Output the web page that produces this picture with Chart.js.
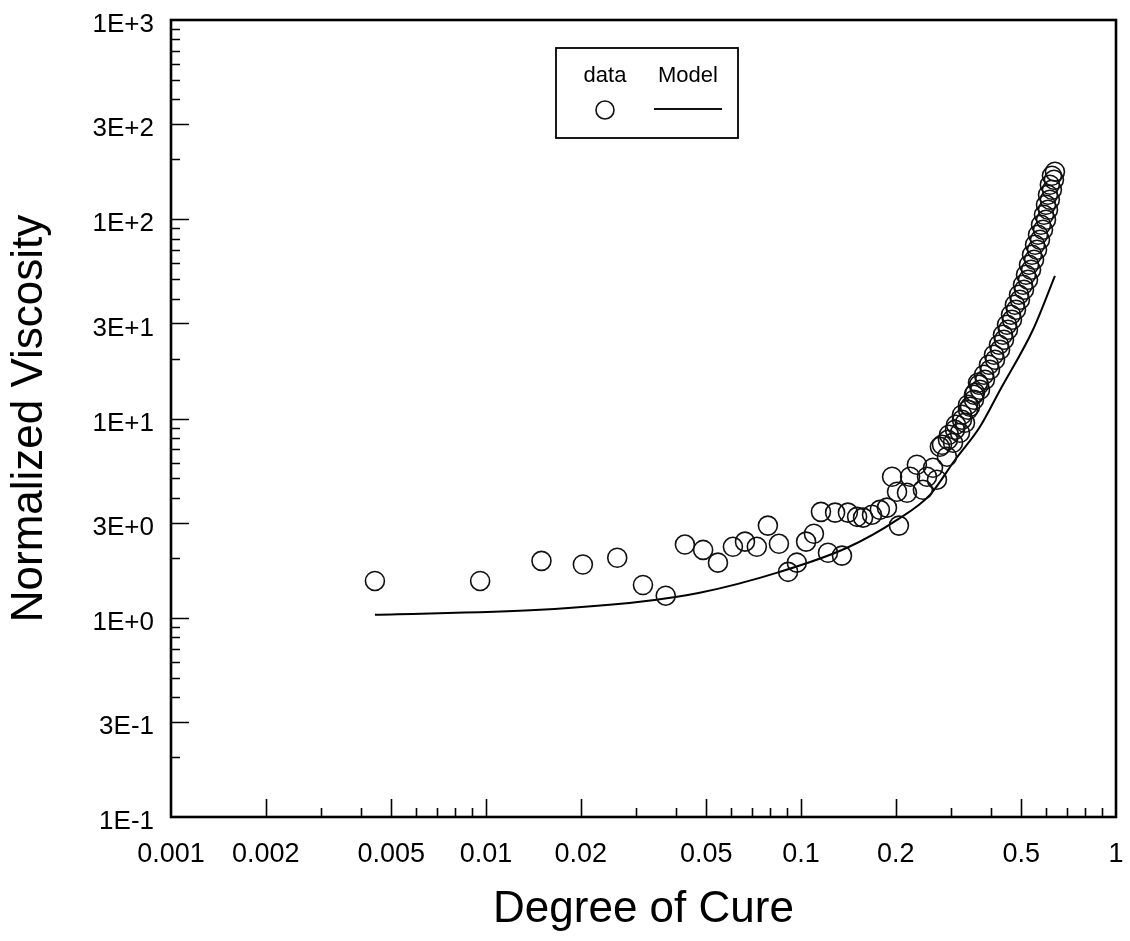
<!DOCTYPE html>
<html>
<head>
<meta charset="utf-8">
<title>Normalized Viscosity vs Degree of Cure</title>
<script src="https://cdn.jsdelivr.net/npm/chart.js@4.4.1/dist/chart.umd.min.js"></script>
<style>
  html, body { margin: 0; padding: 0; background: #fff; }
</style>
</head>
<body>
<canvas id="myChart" width="1130" height="941"></canvas>
<script>
// measured points (degree of cure, normalized viscosity)
const cure = [
  0.00444, 0.00958, 0.0150, 0.0203, 0.0261, 0.0315, 0.0372, 0.0428, 0.0489, 0.0545,
  0.0608, 0.0664, 0.0724, 0.0785, 0.0851, 0.0910, 0.0970, 0.1038, 0.1099, 0.1218,
  0.1349, 0.1157, 0.1283, 0.1409, 0.1507, 0.1574, 0.168, 0.178, 0.1875, 0.2046,
  0.1946, 0.2018, 0.217, 0.222, 0.2333, 0.2437, 0.2512, 0.2625, 0.2702, 0.276,
  0.2906, 0.3038, 0.3197, 0.3316, 0.344, 0.3568, 0.3646,
  0.2928, 0.3083, 0.3244, 0.3390, 0.3541, 0.3701, 0.3837, 0.398, 0.413, 0.4285,
  0.441, 0.454, 0.4675, 0.4814, 0.4955, 0.5104, 0.5256, 0.5374, 0.5493, 0.5614,
  0.5737, 0.5865, 0.5995, 0.6083, 0.6166, 0.626, 0.6354, 0.640,
  0.2803, 0.2949, 0.3105, 0.3244, 0.3390, 0.3541, 0.3673, 0.3811, 0.3951, 0.4098,
  0.4251, 0.4377, 0.4508, 0.4642, 0.4775, 0.4921, 0.5067, 0.5180, 0.5294, 0.5412,
  0.5533, 0.5655, 0.5780, 0.5908, 0.5995, 0.6083, 0.6166, 0.626
];
const viscosity = [
  1.53, 1.53, 1.93, 1.85, 2.00, 1.46, 1.29, 2.33, 2.19, 1.89,
  2.27, 2.41, 2.27, 2.90, 2.35, 1.70, 1.89, 2.41, 2.64, 2.12,
  2.05, 3.40, 3.37, 3.37, 3.21, 3.18, 3.29, 3.48, 3.57, 2.90,
  5.10, 4.29, 4.24, 5.10, 5.86, 4.39, 5.10, 5.66, 4.93, 7.21,
  6.43, 7.55, 8.48, 9.52, 11.45, 13.47, 15.11,
  7.82, 8.78, 9.86, 11.06, 12.42, 13.94, 15.65, 17.57, 19.72, 22.13,
  24.85, 27.89, 31.31, 35.15, 39.45, 44.29, 49.71, 55.79, 62.63, 70.30,
  78.90, 88.57, 99.4, 111.6, 125.3, 140.6, 157.8, 173.2,
  7.38, 8.29, 9.30, 10.44, 11.72, 13.16, 14.77, 16.58, 18.61, 20.89,
  23.45, 26.33, 29.55, 33.17, 37.23, 41.80, 46.92, 52.66, 59.11, 66.35,
  74.47, 83.60, 93.84, 105.3, 118.2, 132.7, 149.0, 165.3
];

// model curve
const modelCure = [0.00444, 0.01484, 0.0308, 0.0477, 0.0857, 0.140, 0.2018, 0.2567, 0.3085, 0.370, 0.4285, 0.545, 0.640];
const modelViscosity = [1.035, 1.097, 1.203, 1.335, 1.70, 2.245, 3.10, 4.14, 6.21, 9.09, 13.9, 27.9, 52.0];

const xTicks = [0.001, 0.002, 0.005, 0.01, 0.02, 0.05, 0.1, 0.2, 0.5, 1];
const xTickLabels = ['0.001', '0.002', '0.005', '0.01', '0.02', '0.05', '0.1', '0.2', '0.5', '1'];
const yTicks = [0.1, 0.3, 1, 3, 10, 30, 100, 300, 1000];
const yTickLabels = ['1E-1', '3E-1', '1E+0', '3E+0', '1E+1', '3E+1', '1E+2', '3E+2', '1E+3'];

const FONT = "'Liberation Sans', Arial, Helvetica, sans-serif";
Chart.defaults.font.family = FONT;
Chart.defaults.color = '#000';

// box around the plot plus inward tick marks (long at labelled values)
const frameTicks = {
  id: 'frameTicks',
  afterDraw(chart) {
    const { ctx, chartArea: a, scales } = chart;
    ctx.save();
    ctx.strokeStyle = '#000';
    ctx.lineWidth = 1.6;
    ctx.beginPath();
    for (let d = -3; d < 0; d++) {
      for (let k = 1; k <= 9; k++) {
        const v = k * Math.pow(10, d);
        if (k === 1 && d === -3) continue;
        const len = (k === 1 || k === 2 || k === 5) ? 18 : 9;
        const px = Math.round(scales.x.getPixelForValue(v)) + 0.5;
        ctx.moveTo(px, a.bottom);
        ctx.lineTo(px, a.bottom - len);
      }
    }
    for (let d = -1; d < 3; d++) {
      for (let k = 1; k <= 9; k++) {
        const v = k * Math.pow(10, d);
        if (k === 1 && d === -1) continue;
        const len = (k === 1 || k === 3) ? 18 : 9;
        const py = Math.round(scales.y.getPixelForValue(v)) + 0.5;
        ctx.moveTo(a.left, py);
        ctx.lineTo(a.left + len, py);
      }
    }
    ctx.stroke();
    ctx.lineWidth = 2.6;
    ctx.strokeRect(a.left, a.top, a.right - a.left, a.bottom - a.top);
    ctx.restore();
  }
};

// legend: labels above their symbols inside a box
const legendBox = {
  id: 'legendBox',
  afterDraw(chart) {
    const { ctx, chartArea: a } = chart;
    const x0 = a.left + 385, y0 = a.top + 28, w = 182, h = 90;
    ctx.save();
    ctx.strokeStyle = '#000';
    ctx.lineWidth = 1.8;
    ctx.strokeRect(x0, y0, w, h);
    ctx.fillStyle = '#000';
    ctx.font = '22px ' + FONT;
    ctx.textAlign = 'center';
    ctx.textBaseline = 'middle';
    ctx.fillText('data', x0 + 49, y0 + 28);
    ctx.fillText('Model', x0 + 132, y0 + 28);
    ctx.lineWidth = 1.6;
    ctx.strokeStyle = '#111';
    ctx.beginPath();
    ctx.arc(x0 + 49, y0 + 62, 9, 0, Math.PI * 2);
    ctx.stroke();
    ctx.lineWidth = 2;
    ctx.beginPath();
    ctx.moveTo(x0 + 98, y0 + 61);
    ctx.lineTo(x0 + 166, y0 + 61);
    ctx.stroke();
    ctx.restore();
  }
};

const ctx = document.getElementById('myChart');

new Chart(ctx, {
  type: 'scatter',
  data: {
    datasets: [{
      label: 'data',
      data: cure.map((c, i) => ({ x: c, y: viscosity[i] })),
      pointStyle: 'circle',
      pointRadius: 9.5,
      pointBorderWidth: 1.6,
      pointBorderColor: '#111',
      pointBackgroundColor: 'rgba(0,0,0,0)',
      showLine: false
    }, {
      type: 'line',
      label: 'Model',
      data: modelCure.map((c, i) => ({ x: c, y: modelViscosity[i] })),
      borderColor: '#000',
      borderWidth: 2,
      pointRadius: 0,
      fill: false,
      cubicInterpolationMode: 'monotone'
    }]
  },
  options: {
    responsive: false,
    animation: false,
    layout: { padding: { top: 20, right: 14, left: 0, bottom: 0 } },
    plugins: {
      legend: { display: false },
      tooltip: { enabled: false }
    },
    scales: {
      x: {
        type: 'logarithmic',
        min: 0.001,
        max: 1,
        grid: { display: false, drawTicks: false },
        border: { display: false },
        afterBuildTicks: s => { s.ticks = xTicks.map(v => ({ value: v })); },
        afterFit: s => { s.height = 124; s.paddingLeft = 0; s.paddingRight = 0; },
        ticks: {
          autoSkip: false,
          maxRotation: 0,
          padding: 21,
          font: { size: 27 },
          callback: (v, i) => xTickLabels[i]
        },
        title: {
          display: true,
          text: 'Degree of Cure',
          font: { size: 44 },
          padding: { top: 0, bottom: 5 }
        }
      },
      y: {
        type: 'logarithmic',
        min: 0.1,
        max: 1000,
        grid: { display: false, drawTicks: false },
        border: { display: false },
        afterBuildTicks: s => { s.ticks = yTicks.map(v => ({ value: v })); },
        afterFit: s => { s.width = 171; s.paddingTop = 0; s.paddingBottom = 0; },
        ticks: {
          autoSkip: false,
          padding: 17,
          labelOffset: 5,
          font: { size: 26 },
          callback: (v, i) => yTickLabels[i]
        },
        title: {
          display: true,
          text: 'Normalized Viscosity',
          font: { size: 44 },
          padding: { top: 3, bottom: 0 }
        }
      }
    }
  },
  plugins: [frameTicks, legendBox]
});
</script>
</body>
</html>
